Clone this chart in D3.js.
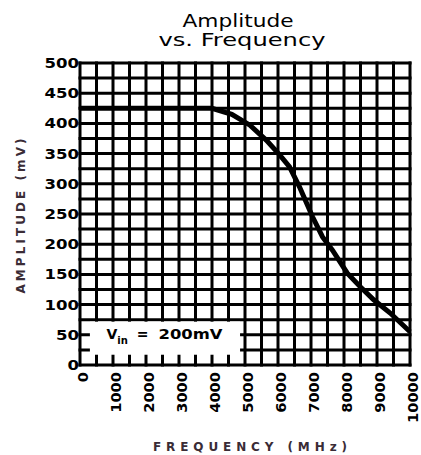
<!DOCTYPE html>
<html lang="en">
	<head>
		<meta charset="utf-8">
		<title>amplitude vs frequency</title>
		<script type="text/javascript" src="https://d3js.org/d3.v7.min.js"></script>
		<style type="text/css">
            body{margin:0;background:#fff;}
            svg{display:block;}
		</style>
	</head>
	<body>
    <div id="chart1"></div>
		 <script type="text/javascript">
            // curve (MHz, mV)
            var freq = [0, 100, 200, 300, 400, 460, 515, 565, 605, 635, 665, 705, 735, 765, 810, 850, 890, 940, 1000]
            var amp = [425, 425, 425, 425, 425, 415, 397, 372, 348, 328, 295, 245, 212, 190, 152, 129, 108, 86, 55]

            var xTicks = [0, 100, 200, 300, 400, 500, 600, 700, 800, 900, 1000]
            var xTickLabels = ["0", "1000", "2000", "3000", "4000", "5000", "6000", "7000", "8000", "9000", "10000"]
            var yTicks = [0, 50, 100, 150, 200, 250, 300, 350, 400, 450, 500]
            var xGrid = d3.range(0, 1001, 50)
            var yGrid = d3.range(0, 501, 25)

            var w = 421
            var h = 455

            var svg = d3.select("#chart1")
                        .append("svg")
                        .attr("width", w)
                        .attr("height", h)

            var xScale = d3.scaleLinear().domain([0, 1000]).range([80, 410])
            var yScale = d3.scaleLinear().domain([0, 500]).range([365, 63])

            // grid
            svg.selectAll(".vgrid")
                .data(xGrid)
                .enter()
                .append("line")
                .attr("class", "vgrid")
                .attr("x1", function(d){ return xScale(d) })
                .attr("x2", function(d){ return xScale(d) })
                .attr("y1", yScale(500) - 1.5)
                .attr("y2", yScale(0) + 1.5)
                .attr("stroke", "#000")
                .attr("stroke-width", 3)

            svg.selectAll(".hgrid")
                .data(yGrid)
                .enter()
                .append("line")
                .attr("class", "hgrid")
                .attr("x1", xScale(0) - 1.5)
                .attr("x2", xScale(1000) + 1.5)
                .attr("y1", function(d){ return yScale(d) })
                .attr("y2", function(d){ return yScale(d) })
                .attr("stroke", "#000")
                .attr("stroke-width", 3)

            // white label box over the grid
            svg.append("rect")
                .attr("x", xScale(30))
                .attr("y", yScale(75) + 2)
                .attr("width", xScale(485) - xScale(30))
                .attr("height", yScale(17) - yScale(75) - 2)
                .attr("fill", "#fff")

            var vin = svg.append("text")
                .attr("x", xScale(80))
                .attr("y", yScale(43))
                .attr("font-family", "DejaVu Sans")
                .attr("font-weight", "bold")
                .attr("font-size", 14)
                .attr("fill", "#000")
            vin.append("tspan").text("V")
            vin.append("tspan").attr("font-size", 10).attr("dy", 5).attr("dx", 0).text("in")
            vin.append("tspan").attr("dy", -5).attr("dx", 9).text("=")
            vin.append("tspan").attr("dx", 10).attr("textLength", 64).attr("lengthAdjust", "spacingAndGlyphs").text("200mV")

            // curve
            var line = d3.line()
                .x(function(d){ return xScale(d[0]) })
                .y(function(d){ return yScale(d[1]) })

            svg.append("path")
                .datum(d3.zip(freq, amp))
                .attr("d", line)
                .attr("fill", "none")
                .attr("stroke", "#000")
                .attr("stroke-width", 5)

            // y tick labels
            svg.selectAll(".ylab")
                .data(yTicks)
                .enter()
                .append("text")
                .attr("class", "ylab")
                .attr("x", 79)
                .attr("y", function(d){ return yScale(d) + 5 })
                .attr("text-anchor", "end")
                .attr("font-family", "DejaVu Sans")
                .attr("font-weight", "bold")
                .attr("font-size", 14)
                .attr("textLength", function(d){ return String(d).length * 11.5 })
                .attr("lengthAdjust", "spacingAndGlyphs")
                .text(function(d){ return d })

            // x tick labels, turned
            svg.selectAll(".xlab")
                .data(xTicks)
                .enter()
                .append("text")
                .attr("class", "xlab")
                .attr("transform", function(d){ return "translate(" + (xScale(d) + 8) + ",372) rotate(-90)" })
                .attr("text-anchor", "end")
                .attr("font-family", "DejaVu Sans")
                .attr("font-weight", "bold")
                .attr("font-size", 14)
                .attr("textLength", function(d, i){ return xTickLabels[i].length * 10.2 })
                .attr("lengthAdjust", "spacingAndGlyphs")
                .text(function(d, i){ return xTickLabels[i] })

            // titles
            svg.append("text")
                .attr("x", 238)
                .attr("y", 27)
                .attr("text-anchor", "middle")
                .attr("font-family", "DejaVu Sans")
                .attr("font-size", 17)
                .attr("textLength", 111)
                .attr("lengthAdjust", "spacingAndGlyphs")
                .text("Amplitude")
            svg.append("text")
                .attr("x", 242)
                .attr("y", 46)
                .attr("text-anchor", "middle")
                .attr("font-family", "DejaVu Sans")
                .attr("font-size", 17)
                .attr("textLength", 167)
                .attr("lengthAdjust", "spacingAndGlyphs")
                .text("vs. Frequency")

            svg.append("text")
                .attr("x", 250)
                .attr("y", 451)
                .attr("text-anchor", "middle")
                .attr("font-family", "DejaVu Sans")
                .attr("font-weight", "bold")
                .attr("font-size", 12)
                .attr("fill", "#3a2c36")
                .attr("textLength", 194)
                .attr("lengthAdjust", "spacing")
                .text("FREQUENCY (MHz)")

            svg.append("text")
                .attr("transform", "translate(25,216) rotate(-90)")
                .attr("text-anchor", "middle")
                .attr("font-family", "DejaVu Sans")
                .attr("font-weight", "bold")
                .attr("font-size", 12)
                .attr("fill", "#3a2c36")
                .attr("textLength", 155)
                .attr("lengthAdjust", "spacing")
                .text("AMPLITUDE (mV)")
		</script>
	</body>
</html>
